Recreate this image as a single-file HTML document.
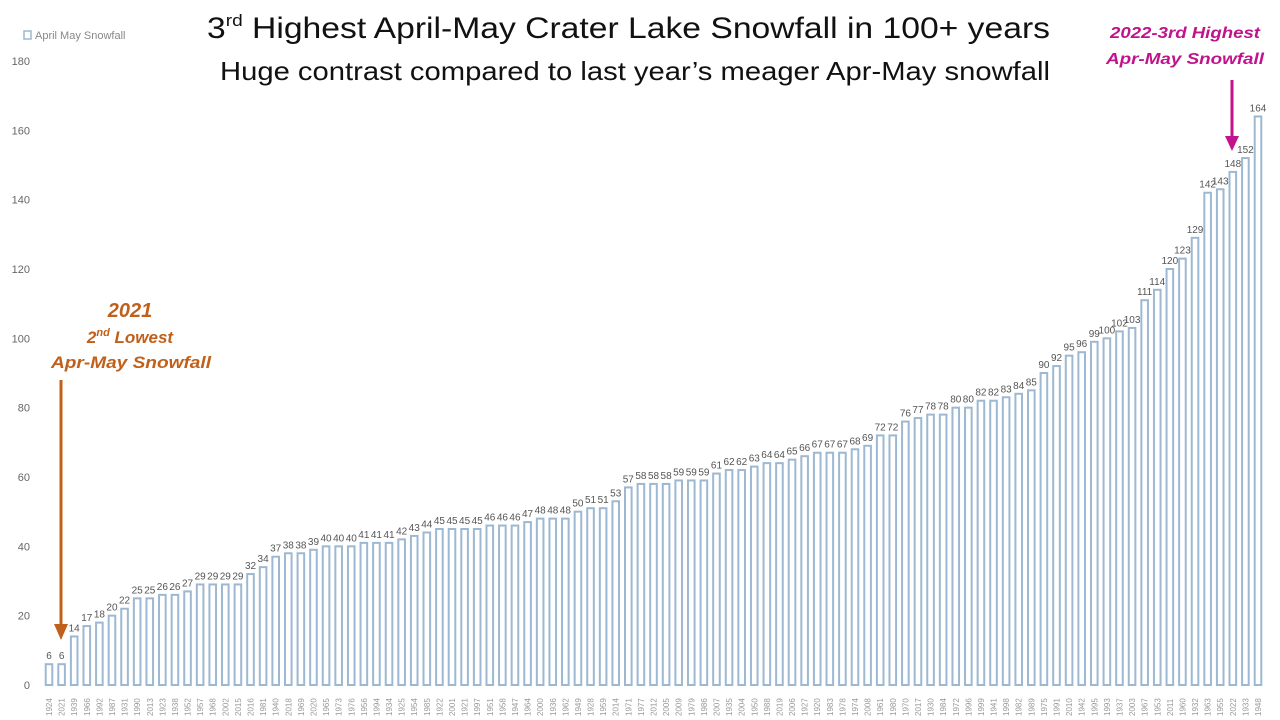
<!DOCTYPE html>
<html><head><meta charset="utf-8"><style>body{margin:0;background:#fff}svg{display:block}</style></head>
<body>
<svg id="s" width="1280" height="720" xmlns="http://www.w3.org/2000/svg" font-family="Liberation Sans, sans-serif">
<rect width="1280" height="720" fill="#fff"/>
<g id="g"></g>
<text x="207" y="38" font-size="30" fill="#111" textLength="843" lengthAdjust="spacingAndGlyphs">3<tspan font-size="17" dy="-12">rd</tspan><tspan dy="12"> Highest April-May Crater Lake Snowfall in 100+ years</tspan></text>
<text x="220" y="80" font-size="26" fill="#111" textLength="830" lengthAdjust="spacingAndGlyphs">Huge contrast compared to last year’s meager Apr-May snowfall</text>
<rect x="24" y="31" width="7" height="8" fill="#fff" stroke="#9db8d2" stroke-width="1.5"/>
<text x="35" y="39" font-size="11" fill="#888">April May Snowfall</text>
<g font-weight="bold" font-style="italic" fill="#c0601a" text-anchor="middle">
<text x="130" y="317" font-size="20">2021</text>
<text x="130" y="343" font-size="17">2<tspan font-size="11" dy="-7">nd</tspan><tspan dy="7"> Lowest</tspan></text>
<text x="131" y="368" font-size="17" textLength="160" lengthAdjust="spacingAndGlyphs">Apr-May Snowfall</text>
</g>
<line x1="61" y1="380" x2="61" y2="626" stroke="#c0601a" stroke-width="3"/>
<polygon points="54,624 68,624 61,640" fill="#c0601a"/>
<g font-weight="bold" font-style="italic" fill="#c0138c" text-anchor="middle" font-size="16">
<text x="1185" y="38" textLength="150" lengthAdjust="spacingAndGlyphs">2022-3rd Highest</text>
<text x="1185" y="64" textLength="158" lengthAdjust="spacingAndGlyphs">Apr-May Snowfall</text>
</g>
<line x1="1232" y1="80" x2="1232" y2="138" stroke="#c0138c" stroke-width="3"/>
<polygon points="1225,136 1239,136 1232,151" fill="#c0138c"/>
</svg>
<script>
(function(){
var v=[6,6,14,17,18,20,22,25,25,26,26,27,29,29,29,29,32,34,37,38,38,39,40,40,40,41,41,41,42,43,44,45,45,45,45,46,46,46,47,48,48,48,50,51,51,53,57,58,58,58,59,59,59,61,62,62,63,64,64,65,66,67,67,67,68,69,72,72,76,77,78,78,80,80,82,82,83,84,85,90,92,95,96,99,100,102,103,111,114,120,123,129,142,143,148,152,164];
var yr=[1924,2021,1939,1966,1992,1987,1931,1990,2013,1923,1938,1952,1957,1968,2002,2015,2016,1981,1940,2018,1969,2020,1965,1973,1976,1956,1994,1934,1925,1954,1985,1922,2001,1921,1997,1951,1958,1947,1964,2000,1936,1962,1949,1928,1959,2014,1971,1977,2012,2005,2009,1979,1986,2007,1935,2004,1950,1988,2019,2006,1927,1920,1983,1978,1974,2008,1961,1980,1970,2017,1930,1984,1972,1996,1999,1941,1998,1982,1989,1975,1991,2010,1942,1995,1993,1937,2003,1967,1953,2011,1960,1932,1963,1955,2022,1933,1948];
var h='',b=685,k=624/180,st=1209/96;
for(var t=0;t<=180;t+=20){h+='<text x="30" y="'+(b-t*k+4)+'" font-size="11" fill="#666" text-anchor="end">'+t+'</text>';}
for(var i=0;i<v.length;i++){var x=49+i*st,tp=b-v[i]*k;
h+='<rect x="'+(x-3.3)+'" y="'+tp+'" width="6.6" height="'+(b-tp)+'" fill="#fff" stroke="#9db8d2" stroke-width="2"/>';
h+='<text x="'+x+'" y="'+(tp-5)+'" font-size="10" fill="#555" text-anchor="middle">'+v[i]+'</text>';
h+='<text transform="translate('+(x+3)+',716) rotate(-90)" font-size="8" fill="#999">'+yr[i]+'</text>';}
document.getElementById('g').innerHTML=h;
})();
</script>
</body></html>
